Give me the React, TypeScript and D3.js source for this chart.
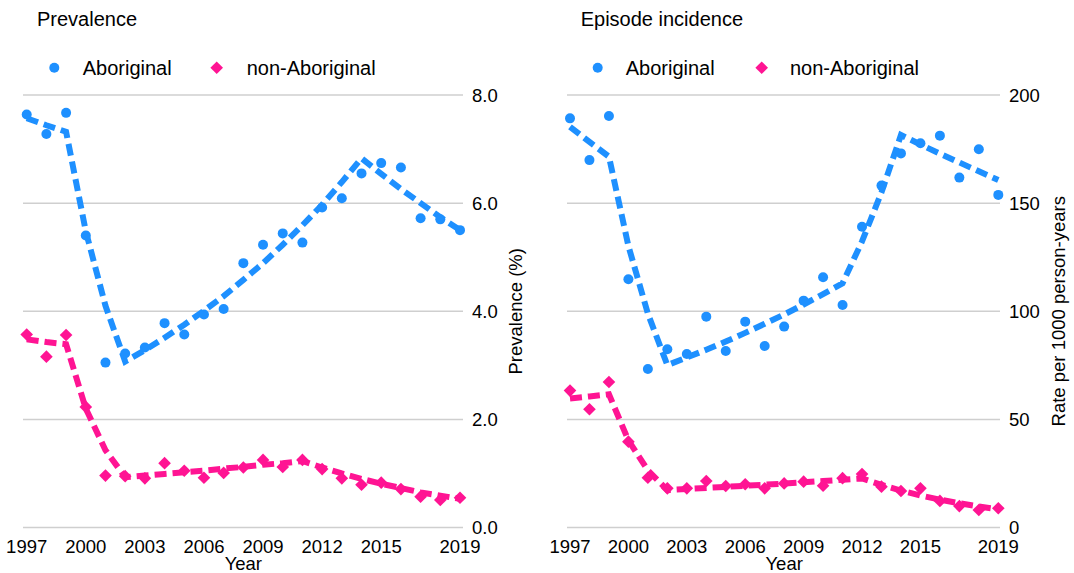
import React from "react";
import * as d3 from "d3";

const years = [1997, 1998, 1999, 2000, 2001, 2002, 2003, 2004, 2005, 2006, 2007, 2008, 2009, 2010, 2011, 2012, 2013, 2014, 2015, 2016, 2017, 2018, 2019];
const xTicks = [1997, 2000, 2003, 2006, 2009, 2012, 2015, 2019];

// Prevalence (%)
const prevAborig = [7.64, 7.28, 7.67, 5.40, 3.05, 3.22, 3.33, 3.78, 3.57, 3.94, 4.04, 4.89, 5.23, 5.44, 5.27, 5.92, 6.09, 6.55, 6.74, 6.66, 5.72, 5.70, 5.50];
const prevNonAborig = [3.57, 3.16, 3.56, 2.23, 0.96, 0.95, 0.91, 1.19, 1.05, 0.92, 1.01, 1.11, 1.25, 1.12, 1.25, 1.08, 0.91, 0.79, 0.83, 0.71, 0.57, 0.51, 0.55];
const prevAborigTrend = [7.57, 7.44, 7.32, 5.48, 4.10, 3.07, 3.28, 3.51, 3.75, 4.01, 4.28, 4.58, 4.89, 5.23, 5.59, 5.97, 6.39, 6.83, 6.54, 6.26, 6.00, 5.74, 5.50];
const prevNonAborigTrend = [3.48, 3.43, 3.39, 2.20, 1.43, 0.93, 0.96, 0.99, 1.02, 1.05, 1.09, 1.12, 1.16, 1.19, 1.23, 1.11, 1.00, 0.90, 0.81, 0.73, 0.65, 0.59, 0.53];
const prevTicks = [0, 2, 4, 6, 8];

// Episode incidence (rate per 1000 person-years)
const incAborig = [189.2, 169.9, 190.3, 114.8, 73.3, 82.4, 80.2, 97.5, 81.6, 95.2, 83.9, 92.9, 104.9, 115.7, 102.9, 139.1, 158.1, 173.0, 177.7, 181.2, 161.8, 174.9, 153.8];
const incNonAborig = [63.3, 54.7, 67.3, 39.7, 23.0, 18.1, 18.1, 21.5, 19.2, 20.0, 18.1, 20.4, 21.2, 19.3, 22.8, 24.7, 18.9, 16.9, 18.1, 12.3, 9.9, 8.1, 8.9];
const incAborigTrend = [185.3, 178.3, 171.5, 130.2, 98.9, 75.1, 78.6, 82.2, 86.0, 90.0, 94.2, 98.5, 103.1, 107.9, 112.9, 132.3, 155.0, 181.5, 177.1, 172.9, 168.8, 164.7, 160.7];
const incNonAborigTrend = [59.7, 60.6, 61.6, 40.3, 26.4, 17.3, 17.8, 18.3, 18.8, 19.3, 19.8, 20.3, 20.9, 21.5, 22.1, 22.7, 19.7, 17.1, 14.8, 12.9, 11.2, 9.7, 8.4];
const incTicks = [0, 50, 100, 150, 200];

const BLUE = "#1E90FF";
const PINK = "#FF1493";
const FONT = "Liberation Sans, Arial, sans-serif";

type PanelProps = {
  title: string;
  yTitle: string;
  x0: number;
  x1: number;
  gx0: number;
  gx1: number;
  yMax: number;
  yTicks: number[];
  fmt: (v: number) => string;
  aborig: number[];
  nonAborig: number[];
  aborigTrend: number[];
  nonAborigTrend: number[];
  titleX: number;
  legDot: number;
  legText1: number;
  legDia: number;
  legText2: number;
  yTitleX: number;
};

function Panel(p: PanelProps) {
  const x = d3.scaleLinear().domain([1997, 2019]).range([p.x0, p.x1]);
  const y = d3.scaleLinear().domain([0, p.yMax]).range([527.5, 95]);
  const line = d3
    .line<number>()
    .x((_, i) => x(years[i]))
    .y((d) => y(d));
  const diamond = d3.symbol().type(d3.symbolSquare).size(80)();
  const midY = (y(0) + y(p.yMax)) / 2;
  return (
    <g>
      <text x={p.titleX} y={26} fontSize={20} fontFamily={FONT} fill="#000">
        {p.title}
      </text>
      <circle cx={p.legDot} cy={67.7} r={5} fill={BLUE} />
      <text x={p.legText1} y={75} fontSize={20} fontFamily={FONT} fill="#000">
        Aboriginal
      </text>
      <path d={diamond!} transform={`translate(${p.legDia},67.7) rotate(45)`} fill={PINK} />
      <text x={p.legText2} y={75} fontSize={20} fontFamily={FONT} fill="#000">
        non-Aboriginal
      </text>
      {p.yTicks.map((t) => (
        <g key={t}>
          <line x1={p.gx0} x2={p.gx1} y1={y(t)} y2={y(t)} stroke="#cfcfcf" strokeWidth={1.5} />
          <text
            x={p.gx1 + 9}
            y={y(t)}
            dy="0.36em"
            fontSize={18.5}
            fontFamily={FONT}
            fill="#000"
          >
            {p.fmt(t)}
          </text>
        </g>
      ))}
      {xTicks.map((t) => (
        <text key={t} x={x(t)} y={553} textAnchor="middle" fontSize={18.5} fontFamily={FONT} fill="#000">
          {t}
        </text>
      ))}
      <text x={(p.x0 + p.x1) / 2} y={570} textAnchor="middle" fontSize={18.5} fontFamily={FONT} fill="#000">
        Year
      </text>
      <text
        transform={`translate(${p.yTitleX},${midY}) rotate(-90)`}
        textAnchor="middle"
        dy="0.36em"
        fontSize={18.5}
        fontFamily={FONT}
        fill="#000"
      >
        {p.yTitle}
      </text>
      <path d={line(p.aborigTrend)!} fill="none" stroke={BLUE} strokeWidth={6} strokeDasharray="12,6" />
      <path d={line(p.nonAborigTrend)!} fill="none" stroke={PINK} strokeWidth={6} strokeDasharray="12,6" />
      {p.aborig.map((v, i) => (
        <circle key={"a" + i} cx={x(years[i])} cy={y(v)} r={5} fill={BLUE} />
      ))}
      {p.nonAborig.map((v, i) => (
        <path
          key={"n" + i}
          d={diamond!}
          transform={`translate(${x(years[i])},${y(v)}) rotate(45)`}
          fill={PINK}
        />
      ))}
    </g>
  );
}

export default function App() {
  return (
    <svg
      width={1074}
      height={573}
      style={{ position: "absolute", left: 0, top: 0, background: "#fff" }}
    >
      <rect width={1074} height={573} fill="#fff" />
      <Panel
        title="Prevalence"
        yTitle="Prevalence (%)"
        x0={26.7}
        x1={460}
        gx0={23}
        gx1={463}
        yMax={8}
        yTicks={prevTicks}
        fmt={(v) => v.toFixed(1)}
        aborig={prevAborig}
        nonAborig={prevNonAborig}
        aborigTrend={prevAborigTrend}
        nonAborigTrend={prevNonAborigTrend}
        titleX={37}
        legDot={54.3}
        legText1={82.7}
        legDia={216.7}
        legText2={246.7}
        yTitleX={515}
      />
      <Panel
        title="Episode incidence"
        yTitle="Rate per 1000 person-years"
        x0={570}
        x1={998.3}
        gx0={567}
        gx1={1000}
        yMax={200}
        yTicks={incTicks}
        fmt={(v) => String(v)}
        aborig={incAborig}
        nonAborig={incNonAborig}
        aborigTrend={incAborigTrend}
        nonAborigTrend={incNonAborigTrend}
        titleX={580.7}
        legDot={597.7}
        legText1={625.7}
        legDia={761.7}
        legText2={790}
        yTitleX={1058}
      />
    </svg>
  );
}
